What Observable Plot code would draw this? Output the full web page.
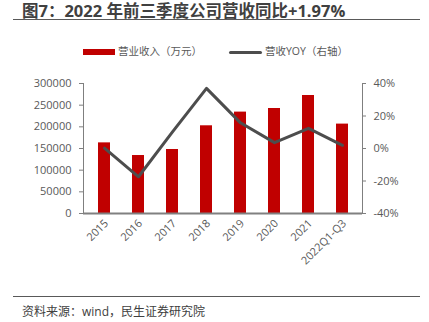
<!DOCTYPE html>
<html><head><meta charset="utf-8">
<script src="https://cdn.jsdelivr.net/npm/d3@7"></script>
<script src="https://cdn.jsdelivr.net/npm/@observablehq/plot@0.6"></script>
<style>
body{margin:0;background:#fff;font-family:"Open Sans","Noto Sans CJK SC",sans-serif;}
#wrap{position:relative;width:429px;height:322px;overflow:hidden;}
#chart{position:absolute;left:0;top:0;}
.abs{position:absolute;white-space:nowrap;}
</style></head><body>
<div id="wrap">
  <div id="chart"></div>
  <div class="abs" id="title" style="left:22px;top:-2px;font-size:16.5px;font-weight:bold;color:#404040;">图7：2022 年前三季度公司营收同比+1.97%</div>
  <div class="abs" style="left:13px;top:19px;width:407px;height:0;border-top:1.5px solid #595959;"></div>
  <div class="abs" style="left:83px;top:49px;width:32px;height:6px;background:#C00000;"></div>
  <div class="abs" style="left:118px;top:43px;font-size:10.5px;color:#595959;">营业收入（万元）</div>
  <div class="abs" style="left:229px;top:50.5px;width:33px;height:3px;background:#4d4d4d;border-radius:1.5px;"></div>
  <div class="abs" style="left:265px;top:43px;font-size:10.5px;color:#595959;">营收YOY（右轴）</div>
  <div class="abs" style="left:13px;top:296px;width:407px;height:0;border-top:1.5px solid #595959;"></div>
  <div class="abs" style="left:22px;top:302px;font-size:12px;color:#404040;">资料来源：wind，民生证券研究院</div>
</div>
<script>
const years = ["2015","2016","2017","2018","2019","2020","2021","2022Q1-Q3"];
const revenue = [163000,133800,147700,202400,234000,242300,272300,206300];
const yoy = [0.2,-17.4,10.2,37.0,15.8,3.6,12.4,1.97];
const leftTicks = [0,50000,100000,150000,200000,250000,300000];
const rightTicks = [-40,-20,0,20,40];

const yMax = 300000, pMin = -40, pMax = 40;
const toLeft = p => (p - pMin) / (pMax - pMin) * yMax;

const data = years.map((y,i)=>({year:y, rev:revenue[i], yoy:yoy[i], yoyL:toLeft(yoy[i])}));

const chart = Plot.plot({
  width: 429, height: 322,
  marginLeft: 83, marginRight: 67, marginTop: 83, marginBottom: 109,
  style: {fontFamily: '"Open Sans","Noto Sans CJK SC",sans-serif', fontSize: "11px", color: "#595959", background: "transparent"},
  x: {domain: years, paddingInner: 0.65, paddingOuter: 0.325},
  y: {domain: [0, yMax]},
  marks: [
    Plot.barY(data, {x:"year", y:"rev", fill:"#C00000"}),
    Plot.line(data, {x:"year", y:"yoyL", stroke:"#4d4d4d", strokeWidth:3, strokeLinejoin:"round", strokeLinecap:"round"}),
    Plot.axisY({anchor:"left", ticks: leftTicks, tickFormat: d3.format("d"), tickSize:4, tickPadding:8, stroke:"#7f7f7f", fill:"#595959", label:null}),
    Plot.axisY({anchor:"right", ticks: rightTicks.map(toLeft), tickFormat: d => Math.round(d/yMax*(pMax-pMin)+pMin) + "%", tickSize:3, tickPadding:8, stroke:"#7f7f7f", fill:"#595959", label:null}),
    Plot.frame({anchor:"left", stroke:"#7f7f7f"}),
    Plot.frame({anchor:"right", stroke:"#7f7f7f"}),
    Plot.ruleY([0], {stroke:"#808080", strokeWidth:2}),
    Plot.axisX({tickRotate:-45, tickSize:0, tickPadding:8, fill:"#595959", label:null, dx:2})
  ]
});
document.getElementById("chart").appendChild(chart);
</script>
</body></html>
